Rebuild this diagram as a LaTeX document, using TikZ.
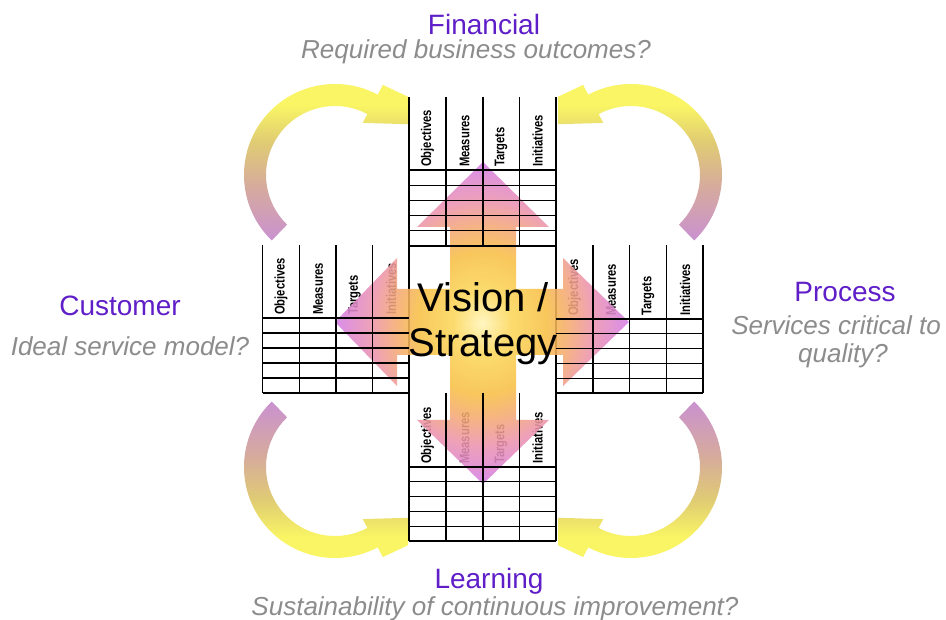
\documentclass[tikz,border=0pt]{standalone}
\usepackage{fontspec}
\usepackage{graphicx}
\setmainfont{Liberation Sans}
\definecolor{ttlc}{RGB}{95,30,200}
\definecolor{subc}{RGB}{140,140,140}
\definecolor{bandA}{RGB}{202,145,208}
\definecolor{bandB}{RGB}{214,172,155}
\definecolor{bandC}{RGB}{224,204,115}
\definecolor{bandD}{RGB}{249,245,100}
\definecolor{cx0}{RGB}{255,245,185}
\definecolor{cx1}{RGB}{252,215,90}
\definecolor{cx2}{RGB}{248,192,70}
\definecolor{cx3}{RGB}{245,172,110}
\definecolor{cx4}{RGB}{236,148,175}
\definecolor{cx5}{RGB}{212,126,232}
\pgfdeclareverticalshading{bandshade}{100bp}{color(0bp)=(bandA); color(25bp)=(bandA); color(42bp)=(bandB); color(55bp)=(bandC); color(66bp)=(bandD); color(75bp)=(bandD); color(100bp)=(bandD)}
\pgfdeclareradialshading{crossshade}{\pgfpointorigin}{color(0bp)=(cx0); color(5bp)=(cx1); color(11bp)=(cx2); color(14.5bp)=(cx3); color(19bp)=(cx4); color(25bp)=(cx5); color(50bp)=(cx5)}
\newcommand\bandarrow[2]{%
  \begin{scope}[shift={(483,321)},#1]
    \clip (-300,-330) rectangle (-75,330);
    \shade[shading=bandshade,shading angle=#2]
      ({-148+91*cos(134)},{-146+91*sin(134)}) arc[start angle=134,end angle=298,radius=91]
      -- ({-148+102*cos(298)},{-146+102*sin(298)})
      -- (-13,-195)
      -- ({-148+59*cos(298)},{-146+59*sin(298)})
      -- ({-148+69*cos(298)},{-146+69*sin(298)})
      arc[start angle=298,end angle=134,radius=69] -- cycle;
  \end{scope}}
\newcommand\hdrtext[1]{\scalebox{0.8}[1]{#1}}
\tikzset{
  tbl/.style={draw=black, line width=1.2pt},
  hdr/.style={rotate=90, anchor=west, inner sep=0pt, font=\fontsize{14}{14}\selectfont\bfseries},
  ttl/.style={anchor=base, inner sep=0pt, text=ttlc, font=\fontsize{28}{30}\selectfont},
  subt/.style={anchor=base, inner sep=0pt, text=subc, font=\fontsize{26}{30}\selectfont\itshape},
  vis/.style={anchor=base, inner sep=0pt, font=\fontsize{40}{44}\selectfont},
}
\begin{document}
\begin{tikzpicture}[x=1pt,y=-1pt]
\useasboundingbox (0,0) rectangle (946,620);
\fill[white] (0,0) rectangle (946,620);
% curved arrows
\bandarrow{}{0}
\bandarrow{xscale=-1}{0}
\bandarrow{yscale=-1}{180}
\bandarrow{xscale=-1,yscale=-1}{180}
% header texts
\foreach \t/\x [count=\i] in {Objectives/427.5,Measures/464.5,Targets/501,Initiatives/537.5}
  \node[hdr] (top\i) at (\x,167) {\hdrtext{\t}};
\foreach \t/\x [count=\i] in {Objectives/281,Measures/318,Targets/354.5,Initiatives/391}
  \node[hdr] (lft\i) at (\x,315) {\hdrtext{\t}};
\foreach \t/\x [count=\i] in {Objectives/574.5,Measures/611,Targets/648,Initiatives/685}
  \node[hdr] (rgt\i) at (\x,316) {\hdrtext{\t}};
\foreach \t/\x [count=\i] in {Objectives/427.5,Measures/464.5,Targets/501,Initiatives/537.5}
  \node[hdr] (bot\i) at (\x,464) {\hdrtext{\t}};
% central square sides (under the cross)
\draw[tbl] (409,246) -- (409,393);
\draw[tbl] (556,246) -- (556,393);
% cross of arrows
\shade[shading=crossshade, fill opacity=0.88]
  (483,162) -- (549,227) -- (516,227) -- (516,289) -- (563,289) -- (563,258)
  -- (629,322) -- (563,386) -- (563,355) -- (516,355) -- (516,420) -- (549,420)
  -- (483,484) -- (417,420) -- (450,420) -- (450,355) -- (397,355) -- (397,386)
  -- (335,322) -- (397,258) -- (397,289) -- (450,289) -- (450,227) -- (417,227) -- cycle;
% table lines
\foreach \x in {409,446,483,519.5,556} \draw[tbl] (\x,97) -- (\x,246);
\foreach \y in {170,185.2,200.4,215.6,230.8,246} \draw[tbl] (409,\y) -- (556,\y);
\foreach \x in {262.5,299.5,336,372.5} \draw[tbl] (\x,245) -- (\x,393);
\foreach \y in {318,333,348,363,378,393} \draw[tbl] (262.5,\y) -- (409,\y);
\foreach \x in {593,629.5,666.5,703} \draw[tbl] (\x,245) -- (\x,393);
\foreach \y in {319,333.8,348.6,363.4,378.2,393} \draw[tbl] (556,\y) -- (703,\y);
\foreach \x in {409,446,483,519.5,556} \draw[tbl] (\x,393) -- (\x,541);
\foreach \y in {467,481.8,496.6,511.4,526.2,541} \draw[tbl] (409,\y) -- (556,\y);
% centre text
\node[vis] (vision) at (483,312) {Vision /};
\node[vis] (strategy) at (483,357) {Strategy};
% titles
\node[ttl] (fin) at (484,35) {Financial};
\node[subt] (finq) at (476,59) {Required business outcomes?};
\node[ttl] (cus) at (120,316) {Customer};
\node[subt] (cusq) at (130,356) {Ideal service model?};
\node[ttl] (pro) at (845,302) {Process};
\node[subt] (proq1) at (836,335) {Services critical to};
\node[subt] (proq2) at (843,363) {quality?};
\node[ttl] (lea) at (489,588) {Learning};
\node[subt] (leaq) at (495,615) {Sustainability of continuous improvement?};
\end{tikzpicture}
\end{document}
